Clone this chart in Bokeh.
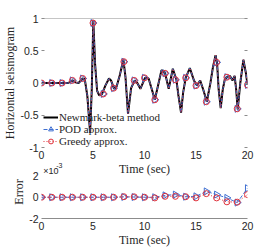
from math import pi
from bokeh.plotting import figure
from bokeh.models import (Range1d, FixedTicker, LinearAxis, Span, Label,
                          Legend, LegendItem)
from bokeh.layouts import column
from bokeh.embed import file_html
from bokeh.resources import INLINE

# ---------------- data ----------------
seis_t = [0.0, 1.0, 2.0, 2.6, 3.0, 3.3, 3.6, 4.0, 4.2, 4.45, 4.72, 4.88, 5.03,
          5.2, 5.4, 5.6, 5.85, 6.2, 6.55, 6.75, 7.05, 7.3, 7.6, 7.95, 8.15,
          8.4, 8.7, 9.05, 9.3, 9.6, 10.05, 10.4, 10.75, 11.0, 11.3, 11.65,
          12.0, 12.35, 12.75, 13.1, 13.3, 13.55, 13.75, 14.0, 14.4, 14.8,
          15.1, 15.4, 15.7, 16.05, 16.4, 16.65, 16.9, 17.05, 17.2, 17.4,
          17.6, 17.8, 18.0, 18.3, 18.55, 18.75, 18.9, 19.05, 19.3, 19.6,
          19.85, 20.0]
seis_v = [0.0, 0.0, 0.0, 0.0, 0.04, 0.01, 0.0, 0.07, 0.06, -0.2, -0.77, -0.1,
          0.97, 0.3, -0.12, -0.19, -0.18, -0.04, 0.07, 0.04, -0.09, -0.05,
          0.12, 0.36, 0.1, -0.48, -0.08, 0.04, 0.0, -0.09, 0.08, 0.07, -0.12,
          -0.26, -0.05, 0.2, 0.15, -0.09, 0.22, 0.05, -0.2, -0.46, -0.15,
          0.08, 0.23, 0.04, -0.04, 0.04, -0.1, -0.29, 0.0, 0.25, 0.43, 0.3,
          -0.1, -0.39, -0.1, 0.06, 0.09, 0.11, 0.04, 0.11, -0.1, -0.41, 0.0,
          0.36, 0.15, -0.03]

mark_t = [0, 1, 2, 3, 4, 5, 6, 7, 8, 9, 10, 11, 12, 13, 14, 15, 16, 17, 18, 19, 20]
pod_mark = [0, 0, 0, 0.04, 0.07, 0.93, -0.17, -0.08, 0.33, 0.04, 0.08, -0.26,
            0.15, 0.05, 0.08, -0.04, -0.29, 0.32, 0.09, -0.4, -0.03]
greedy_mark = [0, 0, 0, 0.04, 0.07, 0.93, -0.17, -0.08, 0.33, 0.04, 0.08, -0.26,
               0.15, 0.05, 0.08, -0.04, -0.29, 0.32, 0.09, -0.4, -0.03]

# error values in units of 1e-3
err_t = [0, 1, 2, 3, 4, 5, 6, 7, 8, 9, 10, 11, 12, 13, 14, 15, 16, 17, 18, 19, 20]
err_pod_e3 = [0, 0, 0, 0, 0, 0, 0, 0, 0.03, 0.02, 0, 0, 0.18, 0.25, 0.05,
              0.09, 0.55, 0.25, -0.06, -0.5, 0.85]
err_greedy_e3 = [0, 0, 0, 0, 0, 0, 0, 0, 0.05, 0.04, 0, -0.06, 0.09, 0.09,
                 0.05, -0.06, 0.34, -0.06, -0.43, -0.46, 0.25]

x_ticks = [0, 5, 10, 15, 20]
top_y_ticks = [-1, -0.5, 0, 0.5, 1]
top_y_labels = {-1: "-1", -0.5: "-0.5", 0: "0", 0.5: "0.5", 1: "1"}
err_y_ticks = [-2, 0, 2]
err_y_labels = {-2: "-2", 0: "0", 2: "2"}

# ---------------- style ----------------
SANS = "Liberation Sans"
SERIF = "Liberation Serif"
TXT = "#262626"
AX = "#8c8c8c"
BLUE = "#3f6fd1"
RED = "#e0323c"
W = 266
LEFT = 35
RIGHT = 19
PX_ERR = 11.0            # pixels per 1e-3 in the bottom plot


def style_axes(p, xt, yt, ylab, ytick_in):
    for ax in p.xaxis:
        ax.ticker = FixedTicker(ticks=xt)
        ax.major_label_text_font = SANS
        ax.major_label_text_font_size = "10.5px"
        ax.major_label_text_color = TXT
        ax.major_tick_line_color = None
        ax.minor_tick_line_color = None
        ax.major_tick_out = 0
        ax.major_tick_in = 0
        ax.major_label_standoff = 3
        ax.axis_label_text_font = SERIF
        ax.axis_label_text_font_size = "12px"
        ax.axis_label_text_font_style = "normal"
        ax.axis_label_text_color = TXT
        ax.axis_label_standoff = 0
    for ax in p.yaxis:
        ax.ticker = FixedTicker(ticks=yt)
        ax.major_label_overrides = ylab
        ax.major_label_text_font = SANS
        ax.major_label_text_font_size = "10.5px"
        ax.major_label_text_color = TXT
        ax.axis_line_color = None
        ax.minor_tick_line_color = None
        ax.major_tick_out = 0
        ax.major_tick_in = ytick_in
        ax.major_tick_line_color = AX if ytick_in else None
        ax.major_label_standoff = 3
        ax.axis_label_text_font = SERIF
        ax.axis_label_text_font_size = "12px"
        ax.axis_label_text_font_style = "normal"
        ax.axis_label_text_color = TXT
        ax.axis_label_standoff = 0
    p.xgrid.grid_line_color = None
    p.ygrid.grid_line_color = None
    p.outline_line_color = None


# ---------------- top plot ----------------
p1 = figure(width=W, height=162, x_range=Range1d(0, 20), y_range=Range1d(-1, 1),
            output_backend="svg", toolbar_location=None, title=None,
            min_border_left=LEFT, min_border_right=RIGHT, min_border_top=18,
            min_border_bottom=15)
style_axes(p1, x_ticks, top_y_ticks, top_y_labels, 3)
p1.xaxis.axis_line_color = None
p1.yaxis.axis_label = "Horizontal seismogram"

rax = LinearAxis(ticker=FixedTicker(ticks=top_y_ticks), major_label_text_font_size="0px",
                 axis_line_color=None, major_tick_in=3, major_tick_out=0,
                 major_tick_line_color=AX, minor_tick_line_color=None,
                 major_label_standoff=0)
p1.add_layout(rax, "right")
p1.add_layout(Span(location=1, dimension="width", line_color=AX, line_width=1))

r_nb = p1.line(seis_t, seis_v, line_color="black", line_width=2)
r_pod_l = p1.line(seis_t, seis_v, line_color=BLUE, line_width=1, line_dash="4 2")
r_pod_m = p1.scatter(mark_t, pod_mark, marker="triangle", angle=-pi / 2, size=7,
                     fill_color=None, line_color=BLUE, line_width=1)
r_gr_l = p1.line(seis_t, seis_v, line_color=RED, line_width=1, line_dash="1 2")
r_gr_m = p1.scatter(mark_t, greedy_mark, marker="circle", size=6,
                    fill_color=None, line_color=RED, line_width=1)

legend = Legend(items=[LegendItem(label="Newmark-beta method", renderers=[r_nb]),
                       LegendItem(label="POD approx.", renderers=[r_pod_l, r_pod_m]),
                       LegendItem(label="Greedy approx.", renderers=[r_gr_l, r_gr_m])],
                location=(2, 0), orientation="vertical",
                label_text_font=SERIF, label_text_font_size="11px",
                label_text_color=TXT, glyph_width=15, glyph_height=12,
                label_height=12, label_standoff=1, spacing=0, padding=0,
                margin=0, border_line_color=None, background_fill_alpha=0)
p1.add_layout(legend)

# ---------------- bottom plot ----------------
# frame reaches up past y=2 (no visible border there) so that the texts
# between the two plots can sit inside it
p2_top = 162
y2_page = 176
p2 = figure(width=W, height=249 - p2_top, x_range=Range1d(0, 20),
            y_range=Range1d(-2, 2 + (y2_page - p2_top) / PX_ERR),
            output_backend="svg", toolbar_location=None, title=None,
            min_border_left=LEFT, min_border_right=RIGHT, min_border_top=0,
            min_border_bottom=29)
style_axes(p2, x_ticks, err_y_ticks, err_y_labels, 0)
p2.xaxis.axis_line_color = AX
p2.xaxis.axis_label = "Time (sec)"
p2.yaxis.axis_label = "Error" + "\u00a0"

p2.line(err_t, err_pod_e3, line_color=BLUE, line_width=1, line_dash="4 2")
p2.scatter(err_t, err_pod_e3, marker="triangle", angle=-pi / 2, size=7,
           fill_color=None, line_color=BLUE, line_width=1)
p2.line(err_t, err_greedy_e3, line_color=RED, line_width=1, line_dash="1 2")
p2.scatter(err_t, err_greedy_e3, marker="circle", size=6,
           fill_color=None, line_color=RED, line_width=1)

# x label of the top plot
p2.add_layout(Label(x=10, y=2 + (y2_page - 168.5) / PX_ERR, text="Time (sec)",
                    text_align="center", text_baseline="middle",
                    text_font=SERIF, text_font_size="12px", text_color=TXT))
# exponent of the error axis
p2.add_layout(Label(x=0.16, y=2 + (y2_page - 171) / PX_ERR, text="×10",
                    text_align="left", text_baseline="middle",
                    text_font=SANS, text_font_size="9px", text_color=TXT))
p2.add_layout(Label(x=1.42, y=2 + (y2_page - 165.2) / PX_ERR, text="-3",
                    text_align="left", text_baseline="middle",
                    text_font=SANS, text_font_size="7px", text_color=TXT))

layout = column(p1, p2, spacing=0)
open("out.html", "w").write(file_html(layout, INLINE))
